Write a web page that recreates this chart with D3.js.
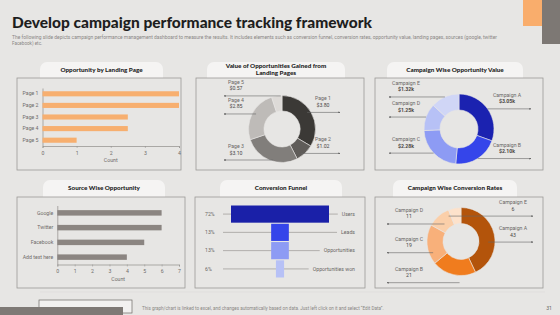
<!DOCTYPE html>
<html>
<head>
<meta charset="utf-8">
<script src="https://cdn.jsdelivr.net/npm/d3@7"></script>
<style>
  body { margin: 0; background: #e7e6e4; }
  svg { display: block; }
</style>
</head>
<body>
<div id="chart"></div>
<script>
// DATA
const pages = ['Page 1', 'Page 2', 'Page 3', 'Page 4', 'Page 5'];
const pageCounts = [4, 4, 2.5, 2.5, 1];
const pageTicks = [0, 1, 2, 3, 4];
const pageValues = [3.80, 1.02, 3.10, 2.85, 0.57];

const campaigns = ['Campaign A', 'Campaign B', 'Campaign C', 'Campaign D', 'Campaign E'];
const campaignValues = [3.05, 2.10, 2.28, 1.25, 1.32]; // $k
const conversionRates = [43, 21, 19, 11, 6];

const sources = ['Google', 'Twitter', 'Facebook', 'Add text here'];
const sourceCounts = [6, 6, 5, 4];
const sourceTicks = [0, 1, 2, 3, 4, 5, 6, 7];

const stages = ['Users', 'Leads', 'Opportunities', 'Opportunities won'];
const stageShares = [72, 13, 13, 6];

const W = 560, H = 315;
const BG = '#e7e6e4';
const FONT = 'Roboto, "Liberation Sans", sans-serif';
const HEAD = 'Lato, "DejaVu Sans", sans-serif';

const svg = d3.select('#chart').append('svg').attr('width', W).attr('height', H);
svg.append('rect').attr('width', W).attr('height', H).attr('fill', BG);

// arrow marker for leader lines
svg.append('defs').append('marker')
  .attr('id', 'arr')
  .attr('viewBox', '0 0 6 6')
  .attr('refX', 5).attr('refY', 3)
  .attr('markerWidth', 3.2).attr('markerHeight', 3.2)
  .attr('orient', 'auto')
  .append('path').attr('d', 'M0,0L6,3L0,6Z').attr('fill', '#555');

// top right decoration
svg.append('rect').attr('x', 523).attr('y', 0).attr('width', 20).attr('height', 26).attr('fill', '#f9ad6c');
svg.append('rect').attr('x', 542).attr('y', 0).attr('width', 18).attr('height', 44).attr('fill', '#7d7874');

// title + subtitle
svg.append('text').attr('x', 12).attr('y', 28)
  .attr('font-family', HEAD).attr('font-weight', 900).attr('font-size', 15.5)
  .attr('fill', '#1e1e1e').attr('textLength', 360).attr('lengthAdjust', 'spacingAndGlyphs')
  .text('Develop campaign performance tracking framework');
svg.append('text').attr('x', 12).attr('y', 39)
  .attr('font-family', FONT).attr('font-size', 4.6).attr('fill', '#8a8684')
  .attr('textLength', 485).attr('lengthAdjust', 'spacingAndGlyphs')
  .text('The following slide depicts campaign performance management dashboard to measure the results. It includes elements such as conversion funnel, conversion rates, opportunity value, landing pages, sources (google, twitter');
svg.append('text').attr('x', 12).attr('y', 45)
  .attr('font-family', FONT).attr('font-size', 4.6).attr('fill', '#8a8684')
  .text('Facebook) etc.');

// panel frame: tab with title, then bordered box
function panel(tab, box, titleLines) {
  const g = svg.append('g');
  g.append('rect').attr('x', tab.x).attr('y', tab.y).attr('width', tab.w).attr('height', 24)
    .attr('rx', 7).attr('fill', '#f5f4f3');
  g.append('rect').attr('x', box.x).attr('y', box.y).attr('width', box.w).attr('height', box.h)
    .attr('fill', BG).attr('stroke', '#9c9997').attr('stroke-width', 0.8);
  const n = titleLines.length;
  titleLines.forEach((t, i) => {
    g.append('text')
      .attr('x', tab.x + tab.w / 2)
      .attr('y', n === 1 ? tab.y + 10 : tab.y + 6 + i * 7.3)
      .attr('text-anchor', 'middle')
      .attr('font-family', HEAD).attr('font-weight', 900).attr('font-size', 6.3)
      .attr('fill', '#222').text(t);
  });
  return g;
}

// horizontal bar chart
function barChart(g, cats, vals, ticks, color, area) {
  const x = d3.scaleLinear().domain([0, d3.max(ticks)]).range([area.x0, area.x1]);
  const y = d3.scaleBand().domain(cats).range([area.y0, area.y1]).paddingInner(area.pad).paddingOuter(area.pad / 2);

  const xAxis = g.append('g').attr('transform', `translate(0,${area.y1})`)
    .call(d3.axisBottom(x).tickValues(ticks).tickSize(2).tickFormat(d3.format('d')));
  const yAxis = g.append('g').attr('transform', `translate(${area.x0},0)`)
    .call(d3.axisLeft(y).tickSize(0).tickPadding(4));
  [xAxis, yAxis].forEach((a) => {
    a.select('.domain').attr('stroke', '#8f8c8a').attr('stroke-width', 0.7);
    a.selectAll('.tick line').attr('stroke', '#8f8c8a').attr('stroke-width', 0.5);
    a.selectAll('.tick text').attr('font-family', FONT).attr('font-size', 5.2).attr('fill', '#6f6b69');
  });

  g.selectAll('rect.bar').data(cats).enter().append('rect')
    .attr('class', 'bar')
    .attr('x', x(0))
    .attr('y', (d) => y(d))
    .attr('width', (d, i) => x(vals[i]) - x(0))
    .attr('height', y.bandwidth())
    .attr('fill', color);

  g.append('text').attr('x', (area.x0 + area.x1) / 2).attr('y', area.y1 + 16)
    .attr('text-anchor', 'middle').attr('font-family', FONT).attr('font-size', 5.2)
    .attr('fill', '#6f6b69').text('Count');
}

// donut with leader lines and labels
function donut(g, c, names, vals, colors, fmt, opt) {
  const pie = d3.pie().sort(null).value((d) => d.v);
  const arcs = pie(names.map((n, i) => ({ n, v: vals[i] })));
  const arc = d3.arc().innerRadius(c.ri).outerRadius(c.ro);
  const dg = g.append('g').attr('transform', `translate(${c.x},${c.y})`);
  dg.selectAll('path').data(arcs).enter().append('path')
    .attr('d', arc)
    .attr('fill', (d, i) => colors[i])
    .attr('stroke', BG).attr('stroke-width', 0.6);

  arcs.forEach((a, i) => {
    const mid = (a.startAngle + a.endAngle) / 2;
    const px = c.x + c.ro * Math.sin(mid);
    const py = c.y - c.ro * Math.cos(mid) + opt.dy;
    const right = opt.sides ? opt.sides[i] === 'R' : Math.sin(mid) >= 0;
    const ex = right ? c.x + opt.lenR : c.x - opt.lenL;
    const sx = right ? px - opt.inset : px + opt.inset;
    g.append('line').attr('x1', sx).attr('y1', py).attr('x2', ex).attr('y2', py)
      .attr('stroke', '#666').attr('stroke-width', 0.6).attr('marker-end', 'url(#arr)');
    const lx = right ? ex - opt.labR : ex + opt.labL;
    g.append('text').attr('x', lx).attr('y', py - 12).attr('text-anchor', 'middle')
      .attr('font-family', FONT).attr('font-size', 5.2).attr('fill', '#6a6664').text(a.data.n);
    g.append('text').attr('x', lx).attr('y', py - 5.5).attr('text-anchor', 'middle')
      .attr('font-family', FONT).attr('font-size', 5.2).attr('font-weight', opt.bold ? 700 : 400)
      .attr('fill', '#4a4644').text(fmt(a.data.v));
  });
}

// 1. Opportunity by Landing Page
const p1 = panel({ x: 40, y: 62, w: 123 }, { x: 17, y: 78, w: 164, h: 92 }, ['Opportunity by Landing Page']);
barChart(p1, pages, pageCounts, pageTicks, '#f7af6f', { x0: 42.5, x1: 179, y0: 88, y1: 146, pad: 0.56 });

// 2. Value of Opportunities Gained from Landing Pages
const p2 = panel({ x: 207, y: 62, w: 138 }, { x: 196, y: 78, w: 168, h: 92 }, ['Value of Opportunities Gained from', 'Landing Pages']);
donut(p2, { x: 282, y: 129, ro: 33.5, ri: 18 }, pages, pageValues,
  ['#3b3936', '#5f5c59', '#817e7b', '#bebbb8', '#dddad7'],
  (v) => '$' + v.toFixed(2),
  { lenR: 58, lenL: 58, labR: 17, labL: 12, dy: 0, inset: 4, bold: false });

// 3. Campaign Wise Opportunity Value
const p3 = panel({ x: 387, y: 62, w: 136 }, { x: 375, y: 78, w: 168, h: 92 }, ['Campaign Wise Opportunity Value']);
donut(p3, { x: 459, y: 129, ro: 35, ri: 19 }, campaigns, campaignValues,
  ['#1b22b0', '#3545ea', '#8d9bf4', '#b7c1f6', '#d0d6f6'],
  (v) => '$' + v.toFixed(2) + 'k',
  { lenR: 72, lenL: 70, labR: 24, labL: 17, dy: 0, inset: 0, bold: true });

// 4. Source Wise Opportunity
const p4 = panel({ x: 43, y: 180, w: 122 }, { x: 17, y: 197, w: 168, h: 91 }, ['Source Wise Opportunity']);
barChart(p4, sources, sourceCounts, sourceTicks, '#8b8581', { x0: 57.3, x1: 179, y0: 205.5, y1: 264.5, pad: 0.63 });

// 5. Conversion Funnel
const p5 = panel({ x: 220, y: 180, w: 122 }, { x: 195, y: 197, w: 170, h: 91 }, ['Conversion Funnel']);
(function () {
  const cx = 280;
  const w = d3.scaleLinear().domain([0, d3.max(stageShares)]).range([0, 98]);
  const y = d3.scaleBand().domain(stages).range([205.5, 277.5]).paddingInner(0.06);
  const colors = ['#1a20a8', '#3545ea', '#8d9bf4', '#b7c1f6'];
  stages.forEach((s, i) => {
    const yc = y(s) + y.bandwidth() / 2;
    const lab = p5.append('text').attr('x', 355).attr('y', yc + 1.8).attr('text-anchor', 'end')
      .attr('font-family', FONT).attr('font-size', 5.2).attr('fill', '#6a6664').text(s);
    const tw = lab.node().getComputedTextLength();
    p5.append('line').attr('x1', 223).attr('x2', 355 - tw - 4).attr('y1', yc).attr('y2', yc)
      .attr('stroke', '#9a9794').attr('stroke-width', 0.7);
    p5.append('text').attr('x', 205).attr('y', yc + 1.8)
      .attr('font-family', FONT).attr('font-size', 5.2).attr('fill', '#6a6664').text(stageShares[i] + '%');
  });
  p5.selectAll('rect.stage').data(stages).enter().append('rect')
    .attr('class', 'stage')
    .attr('x', (d, i) => cx - w(stageShares[i]) / 2)
    .attr('y', (d) => y(d))
    .attr('width', (d, i) => w(stageShares[i]))
    .attr('height', y.bandwidth())
    .attr('fill', (d, i) => colors[i]);
})();

// 6. Campaign Wise Conversion Rates
const p6 = panel({ x: 393, y: 180, w: 124 }, { x: 375, y: 197, w: 168, h: 91 }, ['Campaign Wise Conversion Rates']);
donut(p6, { x: 461, y: 241.5, ro: 34, ri: 18 }, campaigns, conversionRates,
  ['#b3540b', '#f07c1e', '#f8b07a', '#fbcfa9', '#fde2cb'],
  (v) => String(v),
  { lenR: 72, lenL: 74, labR: 20, labL: 22, dy: 8, inset: 6, bold: false, sides: ['R', 'L', 'L', 'L', 'R'] });

// footer
svg.append('line').attr('x1', 40).attr('x2', 545).attr('y1', 292).attr('y2', 292)
  .attr('stroke', '#dcdad8').attr('stroke-width', 0.6);
svg.append('rect').attr('x', 39).attr('y', 300).attr('width', 93).attr('height', 13)
  .attr('fill', '#f2f1f0').attr('stroke', '#6d6966').attr('stroke-width', 0.7);
svg.append('rect').attr('x', 0).attr('y', 307).attr('width', 123).attr('height', 8).attr('fill', '#7e7975');
svg.append('text').attr('x', 142).attr('y', 309.5)
  .attr('font-family', FONT).attr('font-size', 4.6).attr('fill', '#8a8684')
  .text('This graph/chart is linked to excel, and changes automatically based on data. Just left click on it and select \u201cEdit Data\u201d.');
svg.append('text').attr('x', 552).attr('y', 309.5).attr('text-anchor', 'end')
  .attr('font-family', FONT).attr('font-size', 5.2).attr('fill', '#6a6664').text('31');
</script>
</body>
</html>
